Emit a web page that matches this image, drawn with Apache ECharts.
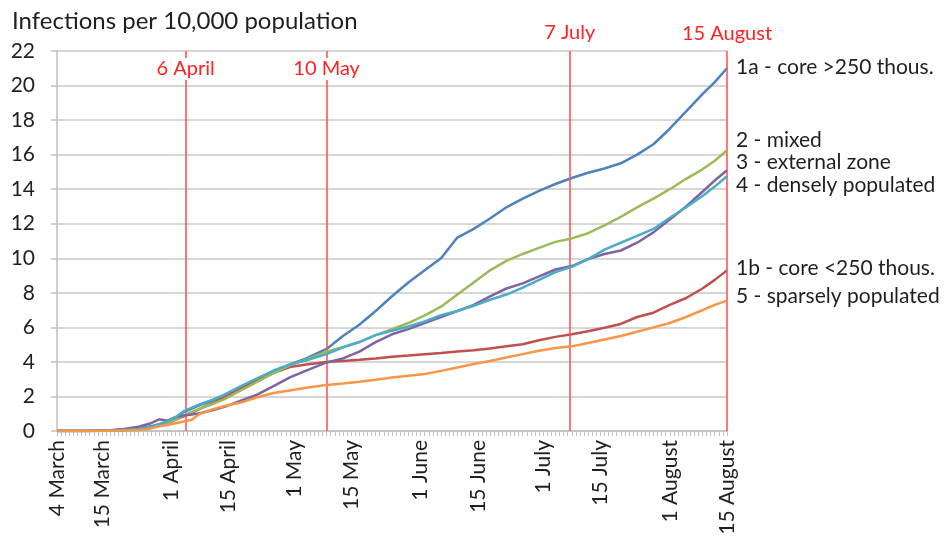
<!DOCTYPE html>
<html>
<head>
<meta charset="utf-8">
<script src="https://cdn.jsdelivr.net/npm/echarts@6/dist/echarts.min.js"></script>
<style>
  html, body { margin: 0; padding: 0; background: #fff; }
  #chart { width: 950px; height: 540px; }
</style>
</head>
<body>
<div id="chart"></div>
<script>
// days counted from 4 March
var days = [0, 7, 12, 16, 20, 23, 25, 27, 29, 31, 33, 35, 38, 41, 45, 49, 53, 57, 61, 66,
  70, 74, 78, 82, 86, 90, 94, 98, 102, 106, 110, 114, 118, 122, 126, 130, 134, 138, 142, 146,
  150, 154, 158, 161, 164]

var core_big = [0, 0, 0.02, 0.08, 0.15, 0.28, 0.4, 0.55, 0.75, 1.1, 1.3, 1.5, 1.75, 2.05, 2.5, 2.95, 3.4, 3.85, 4.2, 4.75,
  5.5, 6.15, 6.95, 7.8, 8.6, 9.3, 10.0, 11.2, 11.7, 12.3, 12.95, 13.45, 13.9, 14.3, 14.65, 14.95, 15.2, 15.5, 16.0, 16.6,
  17.5, 18.5, 19.5, 20.2, 21.0]
var core_small = [0, 0, 0.02, 0.06, 0.12, 0.22, 0.32, 0.45, 0.65, 0.85, 1.05, 1.3, 1.6, 1.95, 2.45, 2.95, 3.35, 3.7, 3.85, 4.0,
  4.05, 4.12, 4.2, 4.3, 4.37, 4.45, 4.52, 4.6, 4.68, 4.78, 4.9, 5.02, 5.25, 5.45, 5.6, 5.78, 5.98, 6.2, 6.6, 6.85,
  7.3, 7.7, 8.25, 8.75, 9.3]
var mixed = [0, 0, 0.02, 0.05, 0.1, 0.2, 0.3, 0.45, 0.65, 0.9, 1.1, 1.3, 1.55, 1.85, 2.35, 2.85, 3.35, 3.8, 4.15, 4.6,
  4.85, 5.15, 5.55, 5.9, 6.25, 6.7, 7.2, 7.9, 8.6, 9.3, 9.85, 10.25, 10.6, 10.95, 11.15, 11.45, 11.9, 12.4, 12.95, 13.45,
  14.0, 14.6, 15.15, 15.65, 16.25]
var external = [0, 0, 0.03, 0.1, 0.25, 0.45, 0.68, 0.6, 0.8, 0.9, 0.95, 1.03, 1.2, 1.4, 1.75, 2.1, 2.6, 3.1, 3.5, 3.97,
  4.2, 4.6, 5.15, 5.6, 5.9, 6.25, 6.6, 6.95, 7.3, 7.8, 8.25, 8.55, 8.95, 9.35, 9.55, 9.95, 10.25, 10.45, 10.9, 11.5,
  12.25, 13.0, 13.85, 14.5, 15.1]
var dense = [0, 0, 0.02, 0.06, 0.12, 0.25, 0.38, 0.55, 0.8, 1.15, 1.35, 1.55, 1.8, 2.1, 2.6, 3.05, 3.5, 3.85, 4.1, 4.45,
  4.85, 5.15, 5.55, 5.8, 6.05, 6.35, 6.7, 6.95, 7.25, 7.6, 7.9, 8.3, 8.75, 9.2, 9.5, 9.95, 10.5, 10.9, 11.3, 11.7,
  12.35, 12.95, 13.6, 14.15, 14.75]
var sparse = [0, 0, 0.01, 0.03, 0.06, 0.15, 0.27, 0.35, 0.45, 0.55, 0.65, 1.0, 1.25, 1.45, 1.65, 1.95, 2.2, 2.35, 2.5, 2.67,
  2.75, 2.85, 2.97, 3.1, 3.2, 3.3, 3.48, 3.68, 3.88, 4.05, 4.25, 4.45, 4.65, 4.8, 4.9, 5.1, 5.3, 5.5, 5.75, 6.0,
  6.25, 6.6, 7.0, 7.3, 7.55]

var seriesNames = ['1a - core >250 thous.', '1b - core <250 thous.', '2 - mixed',
  '3 - external zone', '4 - densely populated', '5 - sparsely populated']
var seriesValues = [core_big, core_small, mixed, external, dense, sparse]

// x axis labels
var labelDays = [0, 11, 28, 42, 58, 72, 89, 103, 119, 133, 150, 164]
var labelTexts = ['4 March', '15 March', '1 April', '15 April', '1 May', '15 May',
  '1 June', '15 June', '1 July', '15 July', '1 August', '15 August']

// red marker lines
var eventDays = [31.5, 66, 125.5, 164]
var eventNames = ['6 April', '10 May', '7 July', '15 August']

var colors = ['#4F81BD', '#C0504D', '#9BBB59', '#8064A2', '#4BACC6', '#F79646']
var endOffsets = [[1, -1], [1, -2], [1, -10], [1, -8], [1, 9], [1, -4]]
var eventLabelOffsets = [[0, 34], [0, 34], [0, -2], [0, -1]]

var font = 'Lato'
var chart = echarts.init(document.getElementById('chart'))

var series = seriesNames.map(function (name, i) {
  return {
    name: name,
    type: 'line',
    showSymbol: false,
    symbol: 'none',
    data: days.map(function (d, k) { return [d, seriesValues[i][k]] }),
    lineStyle: { color: colors[i], width: 2.5 },
    itemStyle: { color: colors[i] },
    endLabel: {
      show: true,
      formatter: name,
      offset: endOffsets[i],
      color: '#1f1f1f',
      fontSize: 21,
      fontFamily: font
    },
    z: 3 + i
  }
})

// marker lines on their own empty series
series.push({
  type: 'line',
  data: [],
  z: 2,
  markLine: {
    silent: true,
    symbol: 'none',
    animation: false,
    lineStyle: { color: '#ff4b4b', width: 1.5, type: 'solid' },
    label: {
      show: true,
      position: 'end',
      formatter: '{b}',
      color: '#ff2020',
      fontSize: 20,
      fontFamily: font
    },
    data: eventDays.map(function (d, i) {
      return {
        name: eventNames[i],
        xAxis: d,
        label: { offset: eventLabelOffsets[i], backgroundColor: '#fff', padding: [1, 2] }
      }
    })
  }
})

chart.setOption({
  animation: false,
  title: {
    text: 'Infections per 10,000 population',
    left: 7,
    top: 4,
    textStyle: { fontFamily: font, fontSize: 24, fontWeight: 'normal', color: '#1f1f1f' }
  },
  grid: { left: 57, right: 223, top: 51, bottom: 109 },
  xAxis: {
    type: 'value',
    min: 0,
    max: 164,
    interval: 1,
    splitLine: { show: false },
    axisLine: { lineStyle: { color: '#bfbfbf', width: 1.5 } },
    axisTick: { show: true, length: 5, lineStyle: { color: '#bfbfbf', width: 1 } },
    axisLabel: {
      rotate: 90,
      showMinLabel: true,
      showMaxLabel: true,
      color: '#1f1f1f',
      fontSize: 21,
      fontFamily: font,
      margin: 9,
      formatter: function (v) {
        var idx = labelDays.indexOf(v)
        return idx >= 0 ? labelTexts[idx] : ''
      }
    }
  },
  yAxis: {
    type: 'value',
    min: 0,
    max: 22,
    interval: 2,
    axisLine: { show: true, lineStyle: { color: '#bfbfbf', width: 1.5 } },
    axisTick: { show: true, length: 6, lineStyle: { color: '#bfbfbf', width: 1.5 } },
    splitLine: { lineStyle: { color: '#c8c8c8', width: 1.5 } },
    axisLabel: { color: '#1f1f1f', fontSize: 21, fontFamily: font, margin: 22 }
  },
  series: series
})
</script>
</body>
</html>
